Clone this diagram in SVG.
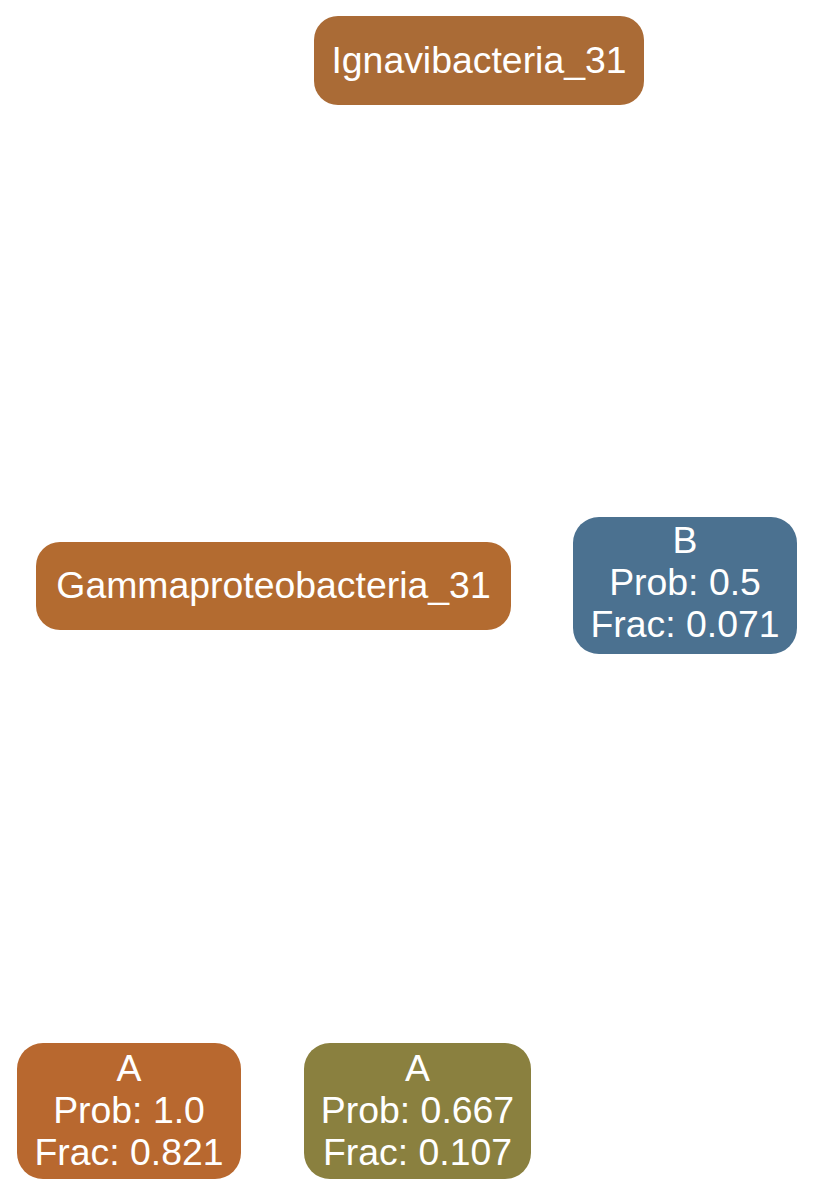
<svg xmlns="http://www.w3.org/2000/svg" width="814" height="1196" viewBox="0 0 814 1196">
<style>
text{font-family:"Liberation Sans",Arial,Helvetica,sans-serif;font-size:37.4px;fill:#ffffff;text-anchor:middle}
</style>
<rect width="814" height="1196" fill="#ffffff"/>
<g id="connectors"></g>
<g id="n_ignavibacteria">
<rect x="314" y="16" width="330" height="89" rx="24" fill="#AA6B36"/>
<text x="479" y="73">Ignavibacteria_31</text>
</g>
<g id="n_gammaproteobacteria">
<rect x="36" y="542" width="475" height="88" rx="24" fill="#B36B30"/>
<text x="273.5" y="598">Gammaproteobacteria_31</text>
</g>
<g id="n_B">
<rect x="573" y="517" width="224" height="137" rx="26" fill="#4B7190"/>
<text x="685" y="553">B</text>
<text x="685" y="595">Prob: 0.5</text>
<text x="685" y="637">Frac: 0.071</text>
</g>
<g id="n_A1">
<rect x="17" y="1043" width="224" height="136" rx="26" fill="#B8682F"/>
<text x="129" y="1081">A</text>
<text x="129" y="1123">Prob: 1.0</text>
<text x="129" y="1165">Frac: 0.821</text>
</g>
<g id="n_A2">
<rect x="304" y="1043" width="227" height="136" rx="26" fill="#8A803F"/>
<text x="417.5" y="1081">A</text>
<text x="417.5" y="1123">Prob: 0.667</text>
<text x="417.5" y="1165">Frac: 0.107</text>
</g>
</svg>
